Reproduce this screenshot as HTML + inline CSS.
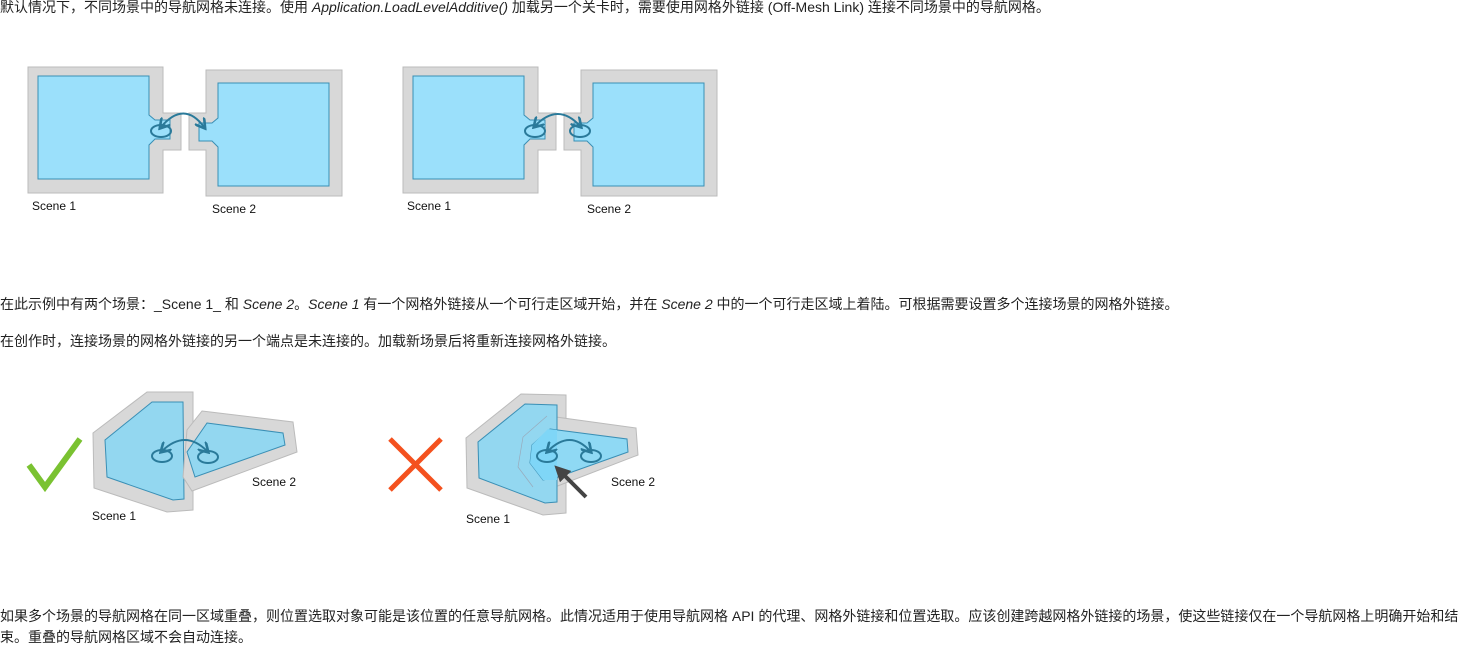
<!DOCTYPE html>
<html><head><meta charset="utf-8"><style>
body{margin:0;width:1458px;height:646px;background:#fff;position:relative;overflow:hidden;font-family:"Liberation Sans","Noto Sans CJK SC",sans-serif;font-size:14px;color:#222}
.t{position:absolute;left:0;white-space:nowrap;line-height:21px}
svg{position:absolute;left:0;top:0}
svg text{font-family:"Liberation Sans",sans-serif;font-size:12px;fill:#111}
</style></head><body>
<div class="t" style="top:-3px">默认情况下，不同场景中的导航网格未连接。使用 <i>Application.LoadLevelAdditive()</i> 加载另一个关卡时，需要使用网格外链接 (Off-Mesh Link) 连接不同场景中的导航网格。</div>
<div class="t" style="top:294px">在此示例中有两个场景：_Scene 1_ 和 <i>Scene 2</i>。<i>Scene 1</i> 有一个网格外链接从一个可行走区域开始，并在 <i>Scene 2</i> 中的一个可行走区域上着陆。可根据需要设置多个连接场景的网格外链接。</div>
<div class="t" style="top:331px">在创作时，连接场景的网格外链接的另一个端点是未连接的。加载新场景后将重新连接网格外链接。</div>
<div class="t" style="top:606px">如果多个场景的导航网格在同一区域重叠，则位置选取对象可能是该位置的任意导航网格。此情况适用于使用导航网格 API 的代理、网格外链接和位置选取。应该创建跨越网格外链接的场景，使这些链接仅在一个导航网格上明确开始和结</div>
<div class="t" style="top:627px">束。重叠的导航网格区域不会自动连接。</div>
<svg width="1458" height="646" viewBox="0 0 1458 646">
<defs>
<marker id="ah" markerWidth="6" markerHeight="6" refX="4" refY="3" orient="auto-start-reverse"><path d="M0,0 L5,3 L0,6" fill="none" stroke="#2a7a9a" stroke-width="1.3"/></marker>
<marker id="dk" markerWidth="4" markerHeight="4" refX="2" refY="2" orient="auto"><path d="M0,0 L4,2 L0,4z" fill="#444"/></marker>
<g id="pair">
<path d="M28,67 H163 V113 H181 V150 H163 V193 H28 Z" fill="#d8d8d8" stroke="#bbb"/>
<path d="M38,76 H149 V115 L155,120 H170 V139 H155 L149,145 V179 H38 Z" fill="#9be0fb" stroke="#3a8fb5"/>
<path d="M206,70 H342 V196 H206 V150 H189 V113 H206 Z" fill="#d8d8d8" stroke="#bbb"/>
<path d="M218,83 H329 V186 H218 V147 L212,141 H199 V123 H212 L218,118 Z" fill="#9be0fb" stroke="#3a8fb5"/>
</g>
</defs>
<use href="#pair"/>
<ellipse cx="161" cy="131" rx="10" ry="6" fill="none" stroke="#2a7a9a" stroke-width="2"/>
<path d="M161,127 Q184,100 204,127" fill="none" stroke="#2a7a9a" stroke-width="2" marker-start="url(#ah)" marker-end="url(#ah)"/>
<text x="32" y="210">Scene 1</text><text x="212" y="213">Scene 2</text>
<use href="#pair" x="375"/>
<ellipse cx="535" cy="131" rx="10" ry="6" fill="none" stroke="#2a7a9a" stroke-width="2"/>
<ellipse cx="580" cy="131" rx="10" ry="6" fill="none" stroke="#2a7a9a" stroke-width="2"/>
<path d="M535,126 Q558,102 580,126" fill="none" stroke="#2a7a9a" stroke-width="2" marker-start="url(#ah)" marker-end="url(#ah)"/>
<text x="407" y="210">Scene 1</text><text x="587" y="213">Scene 2</text>

<polyline points="29,465 45,487 80,439" fill="none" stroke="#7ac231" stroke-width="6"/>
<polygon points="147,392 193,392 193,510 167,512 94,488 93,433" fill="#d8d8d8" stroke="#bbb"/>
<polygon points="152,402 183,402 184,499 173,500 107,477 105,440" fill="#93d7f0" stroke="#3a8fb5"/>
<polygon points="202,411 293,422 297,452 192,491 183,477 187,430" fill="#d8d8d8" stroke="#bbb"/>
<polygon points="207,423 283,433 285,445 195,477 187,452" fill="#93d7f0" stroke="#3a8fb5"/>
<ellipse cx="162" cy="456" rx="10" ry="6" fill="none" stroke="#2a7a9a" stroke-width="2"/>
<ellipse cx="208" cy="457" rx="10" ry="6" fill="none" stroke="#2a7a9a" stroke-width="2"/>
<path d="M162,451 Q185,429 207,451" fill="none" stroke="#2a7a9a" stroke-width="2" marker-start="url(#ah)" marker-end="url(#ah)"/>
<text x="92" y="520">Scene 1</text><text x="252" y="486">Scene 2</text>

<path d="M390,439 L441,490 M441,439 L390,490" stroke="#f4511e" stroke-width="5"/>
<polygon points="521,394 566,395 566,513 543,515 467,488 466,438" fill="#d8d8d8" stroke="#bbb"/>
<polygon points="556,417 636,428 638,455 555,487" fill="#d8d8d8" stroke="#bbb"/>
<polygon points="525,404 557,405 557,502 545,503 479,478 478,442" fill="#93d7f0" stroke="#3a8fb5"/>
<polygon points="550,429 627,439 628,452 558,477 543,480 530,463 532,445" fill="#8fd9f4" stroke="#3a8fb5"/>
<polygon points="548,429 557,430 557,480 543,480 530,463 532,445" fill="#7fd6f7"/>
<polyline points="547,416 523,437 518,467 533,487" fill="none" stroke="#9ab" stroke-width="0.7"/>
<ellipse cx="547" cy="456" rx="10" ry="6" fill="none" stroke="#2a7a9a" stroke-width="2"/>
<ellipse cx="591" cy="456" rx="10" ry="6" fill="none" stroke="#2a7a9a" stroke-width="2"/>
<path d="M548,451 Q570,429 590,451" fill="none" stroke="#2a7a9a" stroke-width="2" marker-start="url(#ah)" marker-end="url(#ah)"/>
<line x1="586" y1="497" x2="560" y2="471" stroke="#444" stroke-width="4" marker-end="url(#dk)"/>
<text x="466" y="523">Scene 1</text><text x="611" y="486">Scene 2</text>
</svg>
</body></html>
